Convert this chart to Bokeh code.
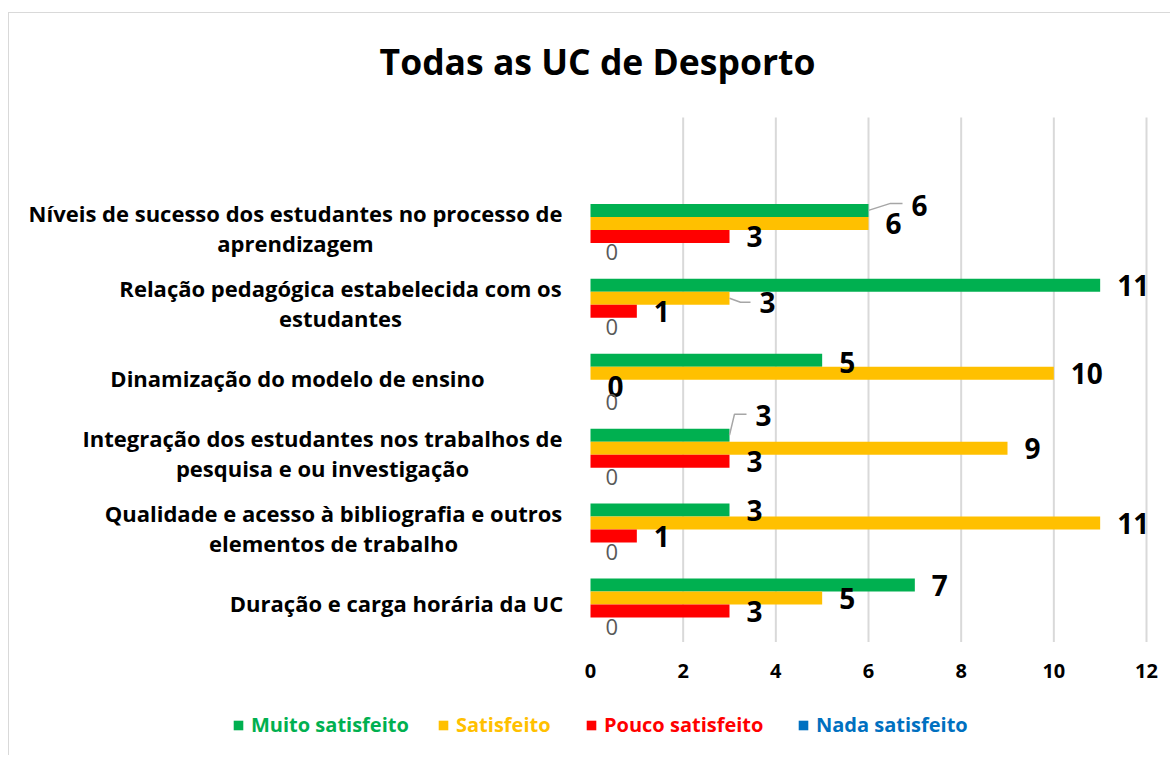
from bokeh.plotting import figure
from bokeh.models import ColumnDataSource, Range1d, Legend, LegendItem
from bokeh.core.properties import value
from bokeh.embed import file_html
from bokeh.resources import INLINE

# ---------------- data ----------------
title_text = "Todas as UC de Desporto"
# categories listed bottom -> top (as drawn)
category_lines = [
    ["Duração e carga horária da UC"],
    ["Qualidade e acesso à bibliografia e outros", "elementos de trabalho"],
    ["Integração dos estudantes nos trabalhos de", "pesquisa e ou investigação"],
    ["Dinamização do modelo de ensino"],
    ["Relação pedagógica estabelecida com os", "estudantes"],
    ["Níveis de sucesso dos estudantes no processo de", "aprendizagem"],
]
series_names = ["Muito satisfeito", "Satisfeito", "Pouco satisfeito", "Nada satisfeito"]
muito_satisfeito = [7, 3, 3, 5, 11, 6]
satisfeito = [5, 11, 9, 10, 3, 6]
pouco_satisfeito = [3, 1, 3, 0, 1, 3]
nada_satisfeito = [0, 0, 0, 0, 0, 0]
x_ticks = [0, 2, 4, 6, 8, 10, 12]

# ---------------- layout / style ----------------
FONT = "Open Sans"
colors = ["#00B050", "#FFC000", "#FF0000", "#0070C0"]
OX, OY = 9, 13                      # canvas origin on the page (margin + border)
W, H = 1162, 743
PLOT_L, PLOT_R, PLOT_T, PLOT_B = 590, 1146, 117, 641.5   # page px of value axis box
XMIN, XMAX = 0, 12
NCAT_SLOTS = 7
px_x = (PLOT_R - PLOT_L) / (XMAX - XMIN)
px_y = (PLOT_B - PLOT_T) / NCAT_SLOTS
x_start = XMIN - (PLOT_L - OX) / px_x
y_end = NCAT_SLOTS + (PLOT_T - OY) / px_y

bar_h = 13 / px_y
series_shift = [1.5 * bar_h, 0.5 * bar_h, -0.5 * bar_h, -1.5 * bar_h]
cat_pos = [i + 0.5 for i in range(len(category_lines))]
label_center_px = [396, 333, 322, 297, 340, 295]  # page-x centre of each wrapped label block

special_offsets = {(0, 5): (43, -5), (1, 5): (17, 0), (1, 4): (30, 4), (0, 2): (26, -20),
                   (0, 3): (17, 2)}
leaders = {
    (0, 5): [(0, 0), (22, -7), (34, -7)],
    (1, 4): [(0, 0), (11, 4), (21, 4)],
    (0, 2): [(0, 0), (5, -21), (17, -21)],
}

p = figure(width=W, height=H, output_backend="svg", toolbar_location=None,
           x_range=Range1d(x_start, x_start + W / px_x),
           y_range=Range1d(y_end - H / px_y, y_end),
           x_axis_location=None, y_axis_location=None,
           min_border=0)
p.outline_line_color = None
p.grid.visible = False
p.styles = {"margin-left": "8px", "margin-top": "12px",
            "border-left": "1px solid #d9d9d9", "border-top": "1px solid #d9d9d9"}

# vertical gridlines (value ticks except 0)
grid_x = [t for t in x_ticks if t != 0]
p.segment(x0=grid_x, x1=grid_x, y0=[0] * len(grid_x), y1=[NCAT_SLOTS] * len(grid_x),
          line_color="#d9d9d9", line_width=2)

# tick labels
p.text(x=x_ticks, y=[0] * len(x_ticks), text=[str(t) for t in x_ticks], y_offset=29,
       text_font=value(FONT), text_font_style="bold", text_font_size="20px",
       text_color="black", text_align="center", text_baseline="middle")

all_series = [muito_satisfeito, satisfeito, pouco_satisfeito, nada_satisfeito]
renderers = []
label_sources = []
for si, (vals, col) in enumerate(zip(all_series, colors)):
    ys = [c + series_shift[si] for c in cat_pos]
    src = ColumnDataSource(dict(y=ys, right=vals))
    r = p.hbar(y="y", right="right", left=0, height=bar_h, source=src,
               fill_color=col, line_color=None)
    renderers.append(r)

    dx, dy = [], []
    for ci in range(len(vals)):
        o = special_offsets.get((si, ci), (17, 0) if si < 3 else (15, 3))
        dx.append(o[0]); dy.append(o[1])
    label_sources.append(ColumnDataSource(dict(x=vals, y=ys, t=[str(v) for v in vals],
                                               dx=dx, dy=dy)))

# leader lines and data labels drawn after all bars
for si, vals in enumerate(all_series):
    ys = label_sources[si].data["y"]
    for ci, v in enumerate(vals):
        if (si, ci) in leaders:
            pts = leaders[(si, ci)]
            xs = [v + a / px_x for a, b in pts]
            yy = [ys[ci] - b / px_y for a, b in pts]
            p.line(xs, yy, line_color="#a6a6a6", line_width=1.5)

for si, lsrc in enumerate(label_sources):
    if si < 3:
        p.text(x="x", y="y", text="t", x_offset="dx", y_offset="dy", source=lsrc,
               text_font=value(FONT), text_font_style="bold", text_font_size="28px",
               text_color="black", text_align="left", text_baseline="middle")
    else:
        p.text(x="x", y="y", text="t", x_offset="dx", y_offset="dy", source=lsrc,
               text_font=value(FONT), text_font_size="22px",
               text_color="#595959", text_align="left", text_baseline="middle")

# category labels
lx, ly, lt, lxo, lyo = [], [], [], [], []
for ci, lines in enumerate(category_lines):
    n = len(lines)
    for li, txt in enumerate(lines):
        lx.append(0); ly.append(cat_pos[ci]); lt.append(txt)
        lxo.append(label_center_px[ci] - PLOT_L)
        lyo.append((li - (n - 1) / 2) * 30 - 2)
p.text(x="x", y="y", text="t", x_offset="xo", y_offset="yo",
       source=ColumnDataSource(dict(x=lx, y=ly, t=lt, xo=lxo, yo=lyo)),
       text_font=value(FONT), text_font_style="bold", text_font_size="22px",
       text_color="black", text_align="center", text_baseline="middle")

# title
p.text(x=[0], y=[NCAT_SLOTS], text=[title_text], x_offset=597 - PLOT_L, y_offset=60 - PLOT_T,
       text_font=value(FONT), text_font_style="bold", text_font_size="35.5px",
       text_color="black", text_align="center", text_baseline="middle")

# legend: one per item so each label gets its series colour
legend_page_x = [232, 437, 585, 797]
for name, r, col, lpx in zip(series_names, renderers, colors, legend_page_x):
    leg = Legend(items=[LegendItem(label=name, renderers=[r])],
                 location=(lpx - OX, H - (738 - OY)),
                 orientation="horizontal", label_text_color=col, label_text_font=FONT,
                 label_text_font_style="bold", label_text_font_size="20px",
                 glyph_width=12, glyph_height=12, padding=0, margin=0, spacing=0,
                 label_standoff=7, border_line_color=None, background_fill_alpha=0)
    p.add_layout(leg, "center")

open("out.html", "w").write(file_html(p, INLINE))
